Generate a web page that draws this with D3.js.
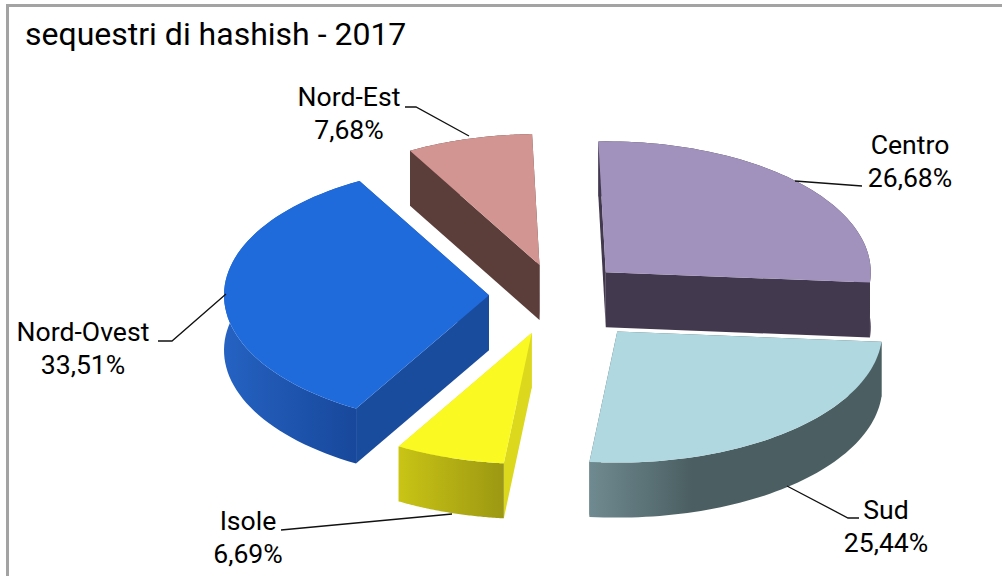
<!DOCTYPE html>
<html>
<head>
<meta charset="utf-8">
<script src="https://cdn.jsdelivr.net/npm/d3@7"></script>
<style>html,body{margin:0;padding:0;background:#fff}svg{display:block}</style>
</head>
<body>
<svg id="c" width="1002" height="576"></svg>
<script>
const titleText = "sequestri di hashish - 2017";
const categories = ["Centro", "Sud", "Isole", "Nord-Ovest", "Nord-Est"];
const values = [26.68, 25.44, 6.69, 33.51, 7.68];
const labels = ["26,68%", "25,44%", "6,69%", "33,51%", "7,68%"];
const explode = [68, 95, 80, 67.5, 64];
const topColors = ["#a091bd", "#afd8e0", "#fafa22", "#206bdb", "#d39591"];
const wallColors = ["#43394f", "#4b5f62", "#dcd81e", "#1a4c9e", "#5b3d3a"];
const outerFrom = ["#43394f", "#6f8a90", "#c9c415", "#2562c2", "#5b3d3a"];
const outerTo = ["#43394f", "#4b5f62", "#9c9812", "#17479a", "#5b3d3a"];

const cx = 556.5, cy = 295.5, rx = 265, ry = 131, depth = 55;
const startAngle = -1.6 * Math.PI / 180;

const svg = d3.select("#c");
const defs = svg.append("defs");
svg.append("rect").attr("x", 7.5).attr("y", 5.5).attr("width", 1000).attr("height", 580)
  .attr("fill", "#fff").attr("stroke", "#a3a3a3").attr("stroke-width", 3);

svg.append("text").attr("x", 25).attr("y", 45).text(titleText)
  .attr("font-family", "Roboto").attr("font-size", 32).attr("fill", "#000");

const pie = d3.pie().sort(null).startAngle(startAngle).endAngle(startAngle + 2 * Math.PI);
const arcs = pie(values);

const sx = d3.scaleLinear().domain([-1, 1]).range([-rx, rx]);
const sy = d3.scaleLinear().domain([-1, 1]).range([-ry, ry]);
const line = d3.line();

function project(a, r, c, dz) {
  return [c[0] + sx(r * Math.sin(a)), c[1] - sy(r * Math.cos(a)) + dz];
}

// back to front so that nearer slices overlap farther ones
const order = [4, 0, 3, 2, 1];
order.forEach(i => {
  const d = arcs[i];
  const mid = (d.startAngle + d.endAngle) / 2;
  const c = [cx + explode[i] * Math.sin(mid), cy - explode[i] * (ry / rx) * Math.cos(mid)];
  const angles = d3.range(0, 61).map(k => d.startAngle + (d.endAngle - d.startAngle) * k / 60);
  const rim = angles.map(a => project(a, 1, c, 0));
  const rimLow = angles.map(a => project(a, 1, c, depth));
  const low = [c[0], c[1] + depth];

  const g = svg.append("g").attr("class", "slice").datum(categories[i]);
  // radial walls
  g.append("path").attr("fill", wallColors[i])
    .attr("d", line([c, rim[0], rimLow[0], low]) + "Z");
  g.append("path").attr("fill", wallColors[i])
    .attr("d", line([c, rim[60], rimLow[60], low]) + "Z");
  // outer wall
  const gid = "wall" + i;
  const lg = defs.append("linearGradient").attr("id", gid)
    .attr("x1", 0).attr("x2", i === 1 ? 0.35 : 1).attr("y1", 0).attr("y2", 0);
  lg.append("stop").attr("offset", "0%").attr("stop-color", outerFrom[i]);
  lg.append("stop").attr("offset", "100%").attr("stop-color", outerTo[i]);
  g.append("path").attr("fill", `url(#${gid})`)
    .attr("d", line(rim.concat(rimLow.slice().reverse())) + "Z");
  // top face
  g.append("path").attr("fill", topColors[i])
    .attr("d", line([c].concat(rim)) + "Z");
});

// leader lines
const leaders = [
  [[795, 181], [862, 186]],
  [[787, 486], [848, 518], [859, 518]],
  [[452, 514], [281, 530]],
  [[226, 294], [172, 341], [158, 341]],
  [[469, 136], [416, 107], [405, 107]]
];
leaders.forEach(p => svg.append("path").attr("d", line(p))
  .attr("fill", "none").attr("stroke", "#111").attr("stroke-width", 1.3));

// labels
const labelX = [910, 886, 248, 83, 349];
const labelY = [154, 519, 530, 341, 106];
categories.forEach((name, i) => {
  const t = svg.append("text").attr("text-anchor", "middle")
    .attr("font-family", "Roboto").attr("font-size", 26.6).attr("fill", "#000");
  t.append("tspan").attr("x", labelX[i]).attr("y", labelY[i]).text(name);
  t.append("tspan").attr("x", labelX[i]).attr("y", labelY[i] + 32.5).text(labels[i]);
});
</script>
</body>
</html>
